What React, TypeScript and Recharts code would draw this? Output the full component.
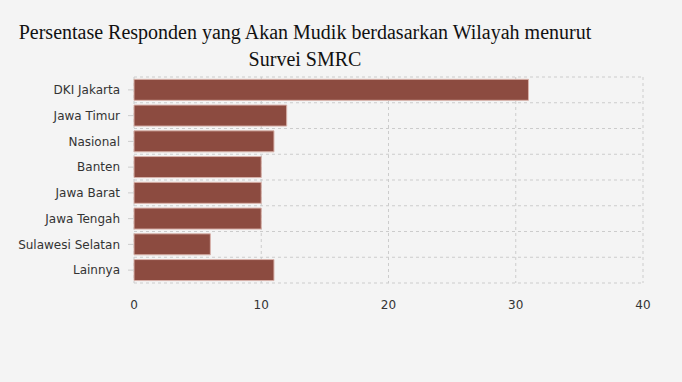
import { BarChart, Bar, XAxis, YAxis, CartesianGrid } from 'recharts';

const regions = [
  'DKI Jakarta',
  'Jawa Timur',
  'Nasional',
  'Banten',
  'Jawa Barat',
  'Jawa Tengah',
  'Sulawesi Selatan',
  'Lainnya',
];
const percentages = [31, 12, 11, 10, 10, 10, 6, 11];
const xTicks = [0, 10, 20, 30, 40];

const data = regions.map((name, i) => ({ name, value: percentages[i] }));

const tickStyle = { fill: '#333', fontSize: 12, fontFamily: 'DejaVu Sans, Verdana, sans-serif' };

// dashed grid lines sit on the row boundaries, not the row centres
const rowEdges = ({ offset }: { offset: { top: number; height: number } }) =>
  Array.from(
    { length: regions.length + 1 },
    (_, i) => offset.top + (offset.height * i) / regions.length
  );

export default function App() {
  return (
    <div
      style={{
        position: 'fixed',
        left: 0,
        top: 0,
        width: 682,
        height: 382,
        background: '#f4f4f4',
      }}
    >
      <div
        style={{
          position: 'absolute',
          left: 0,
          top: 19,
          width: 610,
          textAlign: 'center',
          fontFamily: '"Liberation Serif", "Times New Roman", serif',
          fontSize: 20,
          lineHeight: '27px',
          color: '#111',
        }}
      >
        Persentase Responden yang Akan Mudik berdasarkan Wilayah menurut
        <br />
        Survei SMRC
      </div>
      <BarChart
        width={682}
        height={382}
        data={data}
        layout="vertical"
        margin={{ top: 77, right: 39, bottom: 69, left: 0 }}
        barCategoryGap="9%"
        style={{ position: 'absolute', left: 0, top: 0 }}
      >
        <CartesianGrid
          stroke="#cccccc"
          strokeDasharray="3 3"
          fill="none"
          horizontalCoordinatesGenerator={rowEdges}
        />
        <XAxis
          type="number"
          domain={[0, 40]}
          ticks={xTicks}
          axisLine={false}
          tickLine={false}
          tickSize={6}
          tickMargin={11}
          tick={tickStyle}
          height={30}
        />
        <YAxis
          type="category"
          dataKey="name"
          width={134}
          axisLine={false}
          tickLine={{ stroke: '#cccccc' }}
          tickSize={6}
          tickMargin={8}
          tick={tickStyle}
          interval={0}
        />
        <Bar
          dataKey="value"
          fill="#8c4b40"
          stroke="#d8b2aa"
          strokeWidth={1}
          isAnimationActive={false}
        />
      </BarChart>
    </div>
  );
}
